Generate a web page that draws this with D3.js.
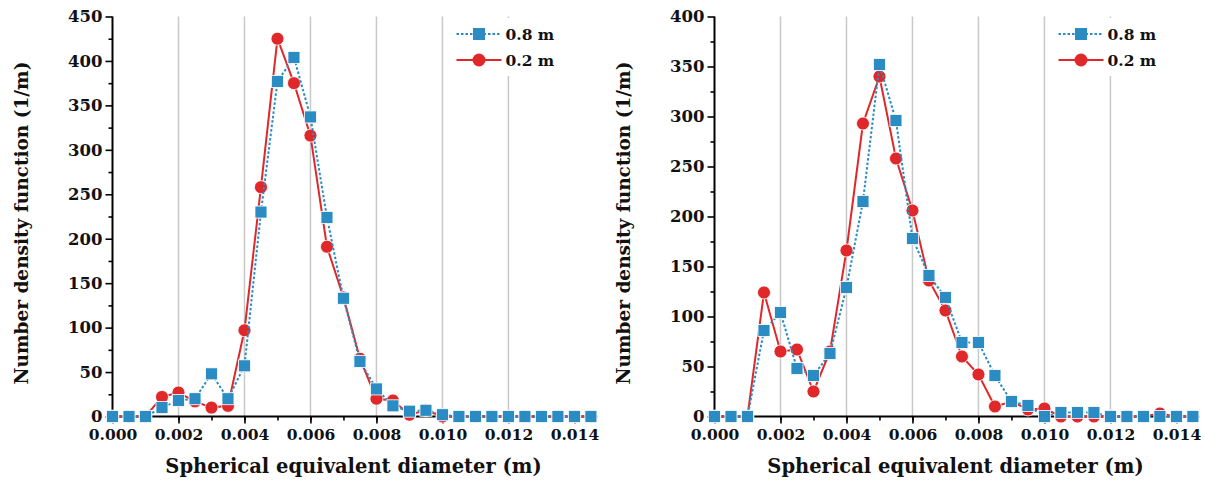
<!DOCTYPE html>
<html>
<head>
<meta charset="utf-8">
<style>
    body { margin: 0; background: #fff; }
    svg { display: block; font-family: 'DejaVu Serif', serif; font-weight: bold; }
    .tick text { font-family: 'DejaVu Serif', serif; font-weight: bold; font-size: 15.5px; fill: #111; }
    .y-major .tick text { font-size: 16.5px; }
    .domain { stroke: #000; stroke-width: 2; }
    .tick line { stroke: #000; stroke-width: 1.6; }
    .grid line { stroke: #c8c8c8; stroke-width: 1.5; }
    .title { font-size: 19.5px; fill: #111; }
    .ytitle { font-size: 18.5px; }
    .legend text { font-size: 15.5px; fill: #111; }
</style>
</head>
<body>
<svg width="1205" height="483"></svg>
<script src="https://d3js.org/d3.v7.min.js"></script>
<script>
// diameter bins (m)
const diameters = [0, 0.0005, 0.001, 0.0015, 0.002, 0.0025, 0.003, 0.0035, 0.004, 0.0045,
    0.005, 0.0055, 0.006, 0.0065, 0.007, 0.0075, 0.008, 0.0085, 0.009, 0.0095,
    0.010, 0.0105, 0.011, 0.0115, 0.012, 0.0125, 0.013, 0.0135, 0.014, 0.0145];

// left panel
const left08 = [0, 0, 0, 10, 18, 20, 48, 20, 57, 230,
    377, 404, 337, 224, 133, 62, 31, 12, 6, 7,
    2, 0, 0, 0, 0, 0, 0, 0, 0, 0];
const left02 = [0, 0, 0, 22, 27, 17, 10, 12, 97, 258,
    425, 375, 316, 191, 134, 65, 20, 18, 2, 7,
    0, 0, 0, 0, 0, 0, 0, 0, 0, 0];

// right panel
const right08 = [0, 0, 0, 86, 104, 48, 41, 63, 129, 215,
    352, 296, 178, 141, 119, 74, 74, 41, 15, 11,
    0, 4, 4, 4, 0, 0, 0, 0, 0, 0];
const right02 = [0, 0, 0, 124, 65, 67, 25, 65, 166, 293,
    340, 258, 206, 136, 106, 60, 42, 10, 15, 7,
    8, 0, 0, 0, 0, 0, 0, 3, 0, 0];

const xTicks = [0, 0.002, 0.004, 0.006, 0.008, 0.010, 0.012, 0.014];
const gridTicks = [0.002, 0.004, 0.006, 0.008, 0.010, 0.012];
const seriesNames = ["0.8 m", "0.2 m"];

const blue = "#2b8cc4";
const red = "#e0282a";

const svg = d3.select("svg");

function panel(x0, yMax, s08, s02) {
    const x = d3.scaleLinear().domain([0, 0.0147]).range([x0, x0 + 485]);
    const y = d3.scaleLinear().domain([0, yMax]).range([416.5, 16.5]);
    const g = svg.append("g");

    // vertical grid
    g.append("g").attr("class", "grid")
        .selectAll("line").data(gridTicks).join("line")
        .attr("x1", d => x(d)).attr("x2", d => x(d))
        .attr("y1", y(yMax)).attr("y2", y(0));

    // legend background hides the grid under it
    const lx = x(0.0104);
    g.append("rect").attr("x", lx).attr("y", 18).attr("width", 118).attr("height", 58).attr("fill", "#fff");

    // minor ticks
    g.append("g").attr("transform", `translate(0,${y(0)})`)
        .call(d3.axisBottom(x).tickValues(d3.range(1, 15).map(i => i / 1000)).tickSize(4).tickFormat(""))
        .call(a => a.select(".domain").remove());
    g.append("g").attr("transform", `translate(${x0},0)`)
        .call(d3.axisLeft(y).tickValues(d3.range(25, yMax, 50)).tickSize(4).tickFormat(""))
        .call(a => a.select(".domain").remove());

    // major axes
    g.append("g").attr("transform", `translate(0,${y(0)})`)
        .call(d3.axisBottom(x).tickValues(xTicks).tickSize(7).tickPadding(5).tickFormat(d3.format(".3f")))
        .call(a => a.select(".domain").attr("d", `M${x0},0H${x0 + 485}`));
    g.append("g").attr("class", "y-major").attr("transform", `translate(${x0},0)`)
        .call(d3.axisLeft(y).tickValues(d3.range(0, yMax + 1, 50)).tickSize(7).tickPadding(3))
        .call(a => a.select(".domain").attr("d", `M0,${y(0)}V${y(yMax)}`));

    // series: red first, blue on top
    const pts02 = diameters.map((d, i) => [d, s02[i]]);
    const pts08 = diameters.map((d, i) => [d, s08[i]]);
    const line = d3.line().x(d => x(d[0])).y(d => y(d[1]));

    g.append("path").attr("d", line(pts02)).attr("fill", "none")
        .attr("stroke", red).attr("stroke-width", 2);
    g.append("g").selectAll("circle").data(pts02).join("circle")
        .attr("cx", d => x(d[0])).attr("cy", d => y(d[1])).attr("r", 6.5)
        .attr("fill", red).attr("stroke", "#fff").attr("stroke-width", 0.8);

    g.append("path").attr("d", line(pts08)).attr("fill", "none")
        .attr("stroke", blue).attr("stroke-width", 2).attr("stroke-dasharray", "2.5,2");
    g.append("g").selectAll("rect").data(pts08).join("rect")
        .attr("x", d => x(d[0]) - 6).attr("y", d => y(d[1]) - 6)
        .attr("width", 12).attr("height", 12)
        .attr("fill", blue).attr("stroke", "#fff").attr("stroke-width", 0.8);

    // legend
    const leg = g.append("g").attr("class", "legend").attr("transform", `translate(${x0 + 344},0)`);
    leg.append("line").attr("x1", 0).attr("x2", 45).attr("y1", 34).attr("y2", 34)
        .attr("stroke", blue).attr("stroke-width", 2).attr("stroke-dasharray", "2.5,2");
    leg.append("rect").attr("x", 16.5).attr("y", 28).attr("width", 12).attr("height", 12).attr("fill", blue);
    leg.append("text").attr("x", 49).attr("y", 40).text(seriesNames[0]);
    leg.append("line").attr("x1", 0).attr("x2", 45).attr("y1", 60).attr("y2", 60)
        .attr("stroke", red).attr("stroke-width", 2);
    leg.append("circle").attr("cx", 22.5).attr("cy", 60).attr("r", 6.5).attr("fill", red);
    leg.append("text").attr("x", 49).attr("y", 66).text(seriesNames[1]);

    // axis titles
    g.append("text").attr("class", "title").attr("text-anchor", "middle")
        .attr("x", x0 + 241).attr("y", 473).text("Spherical equivalent diameter (m)");
    g.append("text").attr("class", "title ytitle").attr("text-anchor", "middle")
        .attr("transform", `translate(${x0 - 85},223) rotate(-90)`)
        .text("Number density function (1/m)");
}

panel(112.5, 450, left08, left02);
panel(714.5, 400, right08, right02);
</script>
</body>
</html>
